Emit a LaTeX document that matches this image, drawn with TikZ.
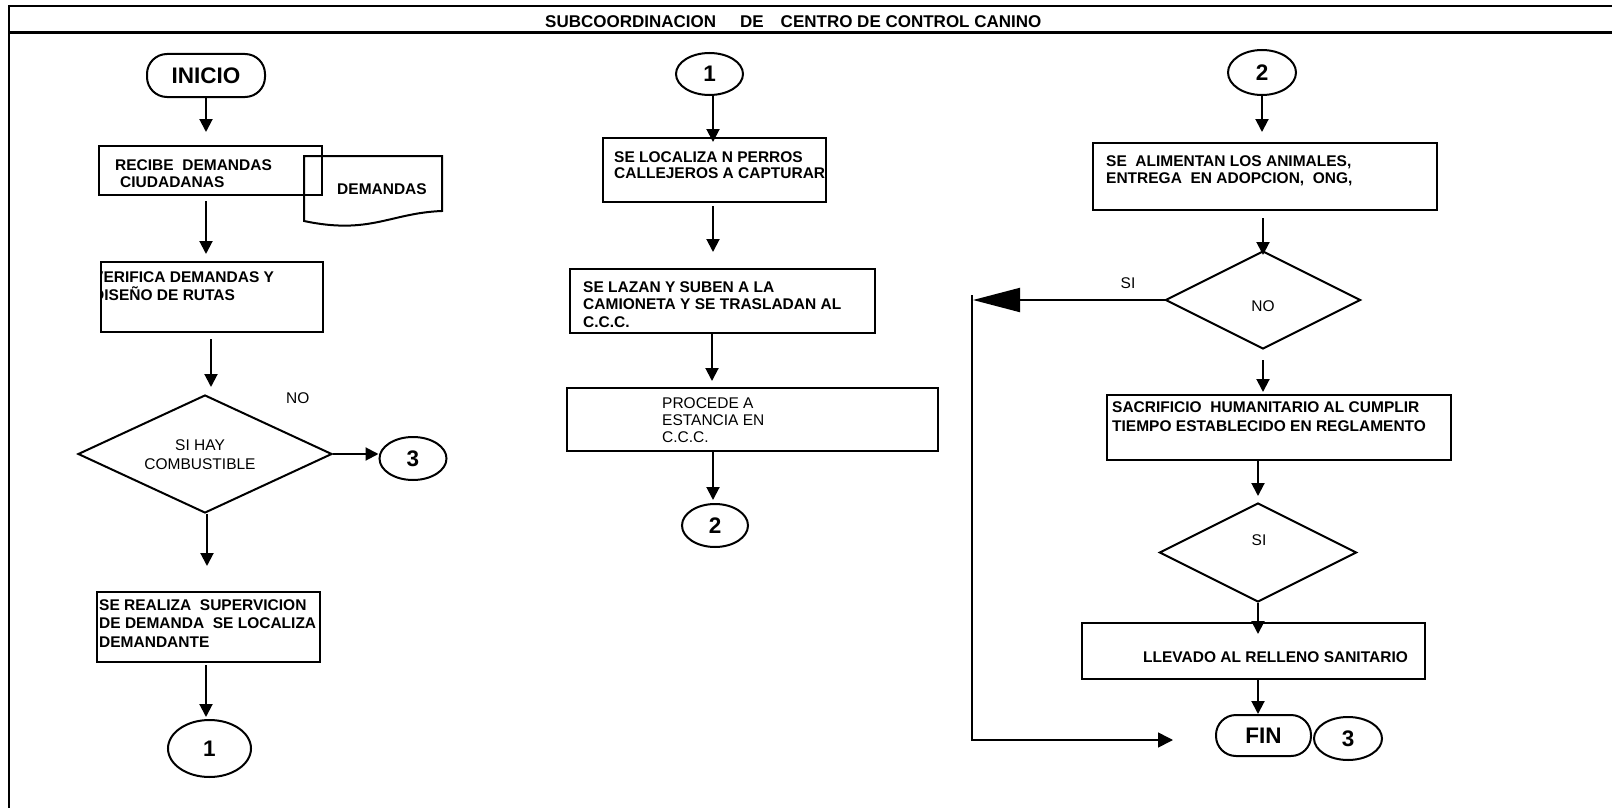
\documentclass[tikz,border=0pt]{standalone}
\usepackage{fontspec}
\setmainfont{Liberation Sans}
\usetikzlibrary{arrows.meta,shapes.geometric}
\begin{document}
\begin{tikzpicture}[x=1pt,y=-1pt,
 box/.style={draw,line width=2pt,rectangle,inner sep=0pt},
 dia/.style={draw,line width=2pt,diamond,inner sep=0pt},
 conn/.style={draw,line width=2pt,ellipse,inner sep=0pt,font=\bfseries\fontsize{22.5}{22.5}\selectfont},
 term/.style={draw,line width=2pt,rectangle,rounded corners=20pt,inner sep=0pt,font=\bfseries\fontsize{22.5}{22.5}\selectfont},
 bt/.style={anchor=base west,inner sep=0pt,font=\bfseries\fontsize{15.5}{18}\selectfont},
 rt/.style={anchor=base west,inner sep=0pt,font=\fontsize{15.5}{18}\selectfont},
 rc/.style={anchor=base,inner sep=0pt,font=\fontsize{15.5}{18}\selectfont},
 bc/.style={anchor=base,inner sep=0pt,font=\bfseries\fontsize{15.5}{18}\selectfont},
 arr/.style={line width=2pt,-{Triangle[length=13pt,width=13pt]}},
]
\useasboundingbox (0,0) rectangle (1612,808);
\fill[white] (0,0) rectangle (1612,808);

% frame
\draw[line width=2pt] (8,6) -- (1612,6);
\draw[line width=3pt] (8,33) -- (1612,33);
\draw[line width=2.5pt] (9,5) -- (9,808);
\node[anchor=base west,inner sep=0pt,font=\bfseries\fontsize{17}{18}\selectfont] (title) at (545,28) {SUBCOORDINACION\hspace{24pt}DE\hspace{17pt}CENTRO DE CONTROL CANINO};

% ---------- left column
\node[term,minimum width=118pt,minimum height=43pt] (inicio) at (206,75.5) {INICIO};
\node[box,minimum width=223pt,minimum height=49pt] (recibe) at (210.5,170.5) {};
\node[bt] (r1) at (115,170) {RECIBE\ \ DEMANDAS};
\node[bt] (r2) at (120,187) {CIUDADANAS};
\draw[line width=2pt] (304,156) -- (442,156) -- (442,211) .. controls (390,213) and (370,235) .. (304,221) -- cycle;
\node[bc] (demandas) at (382,194) {DEMANDAS};

\node[box,minimum width=222pt,minimum height=70pt] (verifica) at (212,297) {};
\begin{scope}
\clip (100,250) rectangle (400,340);
\node[bt] (v1) at (93,282) {VERIFICA DEMANDAS Y};
\node[bt] (v2) at (93,300) {DISEÑO DE RUTAS};
\end{scope}

\node[dia,minimum width=254pt,minimum height=118pt] (d1) at (205,454) {};
\node[rc] (d1a) at (200,450) {SI HAY};
\node[rc] (d1b) at (200,469) {COMBUSTIBLE};
\node[rt] (no1) at (286,403) {NO};
\node[conn,minimum width=67pt,minimum height=43pt] (c3a) at (413,458.5) {3};

\node[box,minimum width=223pt,minimum height=70pt] (realiza) at (208.5,627) {};
\node[bt] (s1) at (99,610) {SE REALIZA\ \ SUPERVICION};
\node[bt] (s2) at (99,628) {DE DEMANDA\ \ SE LOCALIZA};
\node[bt] (s3) at (99,647) {DEMANDANTE};
\node[conn,minimum width=83pt,minimum height=57pt] (c1a) at (209.5,748.5) {1};

% ---------- middle column
\node[conn,minimum width=67pt,minimum height=42pt] (c1b) at (709.5,74) {1};
\node[box,minimum width=223pt,minimum height=64pt] (localiza) at (714.5,170) {};
\node[bt] (l1) at (614,162) {SE LOCALIZA N PERROS};
\node[bt] (l2) at (614,178) {CALLEJEROS A CAPTURAR};
\node[box,minimum width=305pt,minimum height=64pt] (lazan) at (722.5,301) {};
\node[bt] (z1) at (583,292) {SE LAZAN Y SUBEN A LA};
\node[bt] (z2) at (583,309) {CAMIONETA Y SE TRASLADAN AL};
\node[bt] (z3) at (583,327) {C.C.C.};
\node[box,minimum width=371pt,minimum height=63pt] (procede) at (752.5,419.5) {};
\node[rt] (p1) at (662,408) {PROCEDE A};
\node[rt] (p2) at (662,425) {ESTANCIA EN};
\node[rt] (p3) at (662,442) {C.C.C.};
\node[conn,minimum width=66pt,minimum height=43pt] (c2a) at (715,525.5) {2};

% ---------- right column
\node[conn,minimum width=68pt,minimum height=45pt] (c2b) at (1262,72.5) {2};
\node[box,minimum width=344pt,minimum height=67pt] (alimentan) at (1265,176.5) {};
\node[bt] (a1) at (1106,166) {SE\ \ ALIMENTAN LOS ANIMALES,};
\node[bt] (a2) at (1106,183) {ENTREGA\ \ EN ADOPCION,\ \ ONG,};
\node[dia,minimum width=195pt,minimum height=98pt] (d2) at (1263,300) {};
\node[rc] (no2) at (1263,311) {NO};
\node[rc] (si1) at (1128,288) {SI};
\node[box,minimum width=344pt,minimum height=65pt] (sacrificio) at (1279,427.5) {};
\node[bt] (f1) at (1112,412) {SACRIFICIO\ \ HUMANITARIO AL CUMPLIR};
\node[bt] (f2) at (1112,431) {TIEMPO ESTABLECIDO EN REGLAMENTO};
\node[dia,minimum width=197pt,minimum height=99pt] (d3) at (1258,552.5) {};
\node[rc] (si2) at (1259,545) {SI};
\node[box,minimum width=343pt,minimum height=56pt] (llevado) at (1253.5,651) {};
\node[bt] (ll) at (1143,662) {LLEVADO AL RELLENO SANITARIO};
\node[term,minimum width=95pt,minimum height=41pt] (fin) at (1263.5,735.5) {FIN};
\node[conn,minimum width=68pt,minimum height=43pt] (c3b) at (1348,738.5) {3};

\coordinate (siTip) at (973,300);
\coordinate (loopTop) at (972,295);
\coordinate (loopBot) at (972,740);
\coordinate (loopEnd) at (1173,740);

% ---------- connectors
\draw[arr,shorten >=13pt] (inicio.south) -- (inicio.south |- recibe.north);
\draw[arr,shorten <=5pt,shorten >=7pt] ([xshift=-4.5pt]recibe.south) -- ([xshift=-4.5pt]recibe.south |- verifica.north);
\draw[arr,shorten <=6pt,shorten >=7pt] ([xshift=-1pt]verifica.south) -- ([xshift=-1pt]verifica.south |- d1.north);
\draw[arr] (d1.east) -- (d1.east -| c3a.west);
\draw[arr,shorten >=25pt] ([xshift=2pt]d1.south) -- ([xshift=2pt]d1.south |- realiza.north);
\draw[arr,shorten <=2pt,shorten >=2pt] ([xshift=-2.5pt]realiza.south) -- ([xshift=-2.5pt]realiza.south |- c1a.north);

\draw[arr,shorten >=-5pt] ([xshift=3.5pt]c1b.south) -- ([xshift=3.5pt]c1b.south |- localiza.north);
\draw[arr,shorten <=3pt,shorten >=16pt] ([xshift=-1.5pt]localiza.south) -- ([xshift=-1.5pt]localiza.south |- lazan.north);
\draw[arr,shorten >=6pt] ([xshift=-10.5pt]lazan.south) -- ([xshift=-10.5pt]lazan.south |- procede.north);
\draw[arr,shorten >=3pt] ([xshift=-2pt]c2a.north |- procede.south) -- ([xshift=-2pt]c2a.north);

\draw[arr,shorten >=10pt] (c2b.south) -- (c2b.south |- alimentan.north);
\draw[arr,shorten <=7pt,shorten >=-5pt] (d2.north |- alimentan.south) -- (d2.north);
\draw[line width=2pt,-{Triangle[length=47pt,width=24pt]}] (d2.west) -- (siTip);
\draw[line width=1.6pt,-{Triangle[length=15pt,width=15pt]}] (loopTop) -- (loopBot) -- (loopEnd);
\draw[arr,shorten <=10pt,shorten >=2pt] (d2.south) -- (d2.south |- sacrificio.north);
\draw[arr,shorten >=6pt] (d3.north |- sacrificio.south) -- (d3.north);
\draw[arr,shorten >=-12pt] (d3.south) -- (d3.south |- llevado.north);
\draw[arr] (d3.south |- llevado.south) -- (d3.south |- fin.north);
\end{tikzpicture}
\end{document}
